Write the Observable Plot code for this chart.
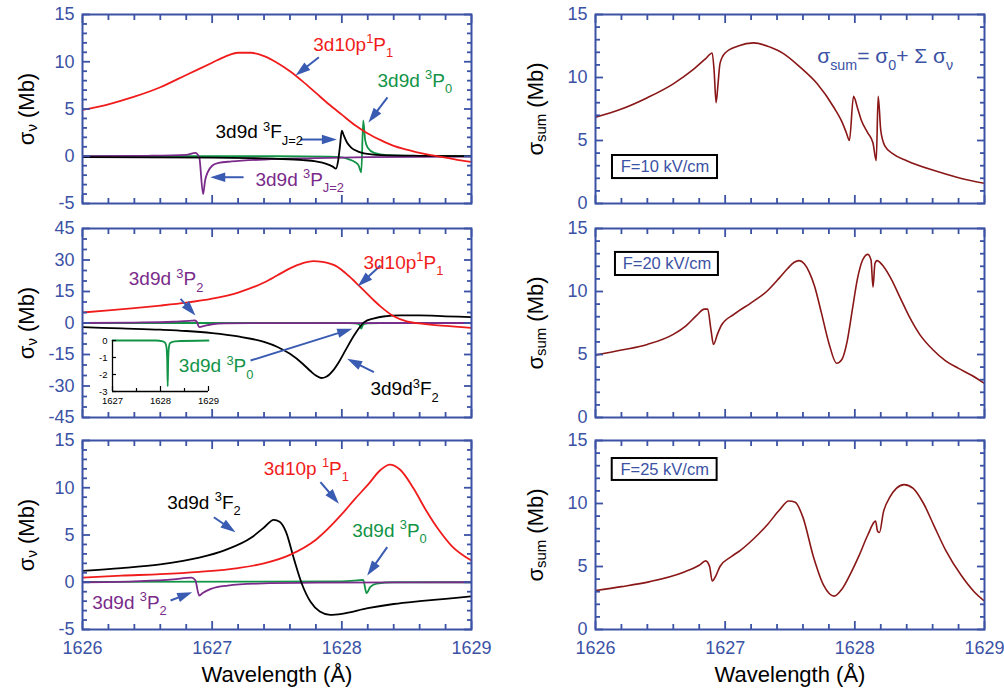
<!DOCTYPE html>
<html><head><meta charset="utf-8">
<script src="https://cdn.jsdelivr.net/npm/d3@7"></script>
<script src="https://cdn.jsdelivr.net/npm/@observablehq/plot@0.6"></script>
<style>
body{margin:0;background:#fff}
#chart{position:relative;width:1004px;height:692px;overflow:hidden;background:#fff}
#chart svg{position:absolute;left:0;top:0;background:transparent;overflow:visible}
</style></head><body><div id="chart"></div>
<script>
// ---------- data (wavelength Å, cross section Mb) ----------
const tlRed = [[1626.0,4.9],[1626.2,5.5],[1626.4,6.3],[1626.6,7.3],[1626.8,8.6],[1627.0,9.9],[1627.1,10.55],[1627.2,10.95],[1627.3,10.95],[1627.4,10.6],[1627.5,9.9],[1627.6,9.0],[1627.7,7.9],[1627.8,6.7],[1627.9,5.5],[1628.0,4.4],[1628.1,3.3],[1628.2,2.4],[1628.3,1.7],[1628.4,1.1],[1628.5,0.7],[1628.6,0.35],[1628.7,0.1],[1628.8,-0.15],[1628.9,-0.4],[1629.0,-0.6]];
const tlBlack = [[1626.0,-0.1],[1626.5,-0.12],[1627.0,-0.15],[1627.3,-0.2],[1627.5,-0.27],[1627.7,-0.4],[1627.8,-0.55],[1627.88,-0.8],[1627.93,-1.1],[1627.955,-1.3],[1627.97,-0.6],[1627.985,1.0],[1628.0,2.7],[1628.015,2.2],[1628.04,1.45],[1628.07,0.95],[1628.1,0.65],[1628.17,0.3],[1628.3,0.12],[1628.6,0.05],[1629.0,0.02]];
const tlGreen = [[1626.0,0],[1627.5,0],[1627.9,-0.03],[1628.0,-0.12],[1628.05,-0.3],[1628.1,-0.6],[1628.13,-1.0],[1628.15,-1.7],[1628.165,3.8],[1628.18,1.7],[1628.2,0.9],[1628.25,0.35],[1628.35,0.12],[1628.6,0.03],[1629.0,0]];
const tlPurple = [[1626.0,0],[1626.5,0.05],[1626.8,0.15],[1626.87,0.35],[1626.9,-0.1],[1626.93,-4.0],[1626.945,-2.6],[1626.965,-1.7],[1627.0,-1.0],[1627.05,-0.7],[1627.15,-0.55],[1627.4,-0.35],[1627.8,-0.2],[1628.2,-0.1],[1629.0,-0.05]];

const mlRed = [[1626.0,5.0],[1626.2,6.0],[1626.4,7.1],[1626.6,8.3],[1626.8,9.7],[1627.0,11.6],[1627.2,14.5],[1627.4,19.3],[1627.5,22.6],[1627.6,26.0],[1627.7,28.5],[1627.78,29.5],[1627.85,29.1],[1627.95,27.3],[1628.05,22.6],[1628.13,17.9],[1628.2,13.6],[1628.25,10.6],[1628.3,7.8],[1628.4,3.2],[1628.5,0.8],[1628.6,-0.2],[1628.7,-0.9],[1628.85,-1.6],[1629.0,-2.3]];
const mlBlack = [[1626.0,-2.0],[1626.3,-2.6],[1626.6,-3.2],[1626.8,-3.8],[1627.0,-4.8],[1627.2,-6.4],[1627.4,-9.0],[1627.5,-11.3],[1627.6,-14.7],[1627.7,-19.5],[1627.76,-23.0],[1627.8,-25.0],[1627.84,-26.2],[1627.88,-25.6],[1627.93,-22.8],[1627.98,-18.3],[1628.03,-12.8],[1628.1,-5.4],[1628.17,0.3],[1628.25,2.2],[1628.32,3.1],[1628.45,3.6],[1628.6,3.6],[1628.8,3.2],[1629.0,2.8]];
const mlPurple = [[1626.0,0],[1626.4,0.2],[1626.7,0.6],[1626.84,1.1],[1626.865,1.2],[1626.88,0.8],[1626.9,-2.0],[1626.94,-1.4],[1627.0,-0.6],[1627.1,-0.2],[1627.3,-0.05],[1629.0,0]];
const mlGreen = [[1626.0,0],[1627.0,0],[1627.9,0],[1628.05,-0.05],[1628.1,-0.15],[1628.125,-0.4],[1628.14,-1.2],[1628.15,-2.7],[1628.16,-1.2],[1628.175,-0.4],[1628.2,-0.15],[1628.3,-0.05],[1629.0,0]];

const blRed = [[1626.0,0.5],[1626.3,0.7],[1626.6,0.85],[1626.9,1.1],[1627.2,1.5],[1627.4,2.0],[1627.6,2.9],[1627.8,4.5],[1628.0,7.2],[1628.1,8.8],[1628.2,10.3],[1628.3,11.9],[1628.37,12.45],[1628.45,11.9],[1628.55,10.0],[1628.65,7.6],[1628.75,5.5],[1628.85,3.8],[1629.0,2.3]];
const blBlack = [[1626.0,1.2],[1626.3,1.5],[1626.6,1.9],[1626.9,2.6],[1627.1,3.4],[1627.3,4.7],[1627.4,5.8],[1627.475,6.6],[1627.52,6.4],[1627.57,5.3],[1627.63,2.5],[1627.69,-0.1],[1627.76,-2.1],[1627.83,-3.1],[1627.91,-3.45],[1628.0,-3.35],[1628.2,-2.75],[1628.4,-2.3],[1628.6,-2.0],[1628.8,-1.75],[1629.0,-1.5]];
const blPurple = [[1626.0,0],[1626.4,0.1],[1626.7,0.3],[1626.84,0.5],[1626.87,0.2],[1626.9,-1.4],[1626.93,-1.1],[1626.99,-0.7],[1627.12,-0.35],[1627.35,-0.15],[1627.8,-0.05],[1629.0,0]];
const blGreen = [[1626.0,0.05],[1628.0,0.1],[1628.12,0.2],[1628.165,0.25],[1628.19,-1.15],[1628.22,-0.5],[1628.27,-0.15],[1628.4,0],[1629.0,0]];

const sum10 = [[1626.0,6.85],[1626.2,7.5],[1626.4,8.4],[1626.6,9.5],[1626.75,10.6],[1626.85,11.5],[1626.9,11.95],[1626.915,10.5],[1626.93,8.0],[1626.945,9.5],[1626.96,11.1],[1627.0,11.95],[1627.1,12.5],[1627.22,12.75],[1627.35,12.4],[1627.45,11.9],[1627.58,10.8],[1627.71,9.5],[1627.84,7.6],[1627.9,6.5],[1627.935,5.6],[1627.958,5.0],[1627.99,8.5],[1628.02,7.6],[1628.05,6.6],[1628.1,5.6],[1628.14,4.8],[1628.165,3.4],[1628.18,8.5],[1628.2,5.8],[1628.23,4.6],[1628.3,3.9],[1628.4,3.4],[1628.6,2.65],[1628.8,2.05],[1629.0,1.6]];
const sum20 = [[1626.0,4.95],[1626.2,5.35],[1626.4,5.8],[1626.6,6.6],[1626.7,7.3],[1626.78,8.1],[1626.84,8.6],[1626.865,8.6],[1626.89,7.0],[1626.91,5.8],[1626.94,6.6],[1626.97,7.3],[1627.07,8.2],[1627.2,9.1],[1627.32,10.0],[1627.42,11.1],[1627.48,11.8],[1627.53,12.3],[1627.57,12.45],[1627.61,12.2],[1627.65,11.5],[1627.69,10.4],[1627.74,8.4],[1627.8,5.9],[1627.86,4.3],[1627.9,4.6],[1627.94,6.0],[1627.98,8.5],[1628.02,11.0],[1628.06,12.5],[1628.1,12.95],[1628.125,12.5],[1628.14,10.35],[1628.155,12.2],[1628.17,12.45],[1628.22,12.0],[1628.28,11.0],[1628.35,9.5],[1628.42,8.0],[1628.5,6.6],[1628.6,5.4],[1628.7,4.5],[1628.8,3.9],[1628.9,3.35],[1629.0,2.7]];
const sum25 = [[1626.0,3.1],[1626.2,3.4],[1626.42,3.8],[1626.68,4.55],[1626.8,5.1],[1626.85,5.45],[1626.88,5.0],[1626.9,3.85],[1626.93,4.3],[1626.96,5.0],[1627.05,5.8],[1627.12,6.3],[1627.22,7.2],[1627.32,8.25],[1627.42,9.5],[1627.49,10.2],[1627.54,10.1],[1627.6,8.9],[1627.68,5.8],[1627.76,3.5],[1627.84,2.65],[1627.9,3.2],[1627.97,4.5],[1628.03,5.8],[1628.1,7.5],[1628.16,8.6],[1628.175,7.8],[1628.19,7.7],[1628.22,9.3],[1628.27,10.5],[1628.32,11.2],[1628.38,11.5],[1628.45,11.2],[1628.53,10.0],[1628.61,8.25],[1628.7,6.3],[1628.82,4.3],[1628.92,3.0],[1629.0,2.25]];

const xTickLabels = [1626, 1627, 1628, 1629];
const yTicksSmall = [-5, 0, 5, 10, 15];
const yTicksMid = [-45, -30, -15, 0, 15, 30, 45];
const yTicksSum = [0, 5, 10, 15];
const insetXTicks = [1627, 1628, 1629];
const insetYTicks = [0, -1, -2, -3];
const fieldLabels = ["F=10 kV/cm", "F=20 kV/cm", "F=25 kV/cm"];

// ---------- styles ----------
const FONT = "'Liberation Sans', Arial, Helvetica, sans-serif";
const AXIS = "#3b52a5";
const ARROW = "#3a5bb2";
const C = {red: "#f01c1c", green: "#129447", purple: "#7a2b8a", black: "#000000", sum: "#8a1717"};
const W = 1004, H = 692;
const xDomain = [1626, 1629];
const xMinor = d3.range(1626, 1629.001, 0.2).filter(v => Math.abs(v - Math.round(v)) > 0.05);
const minorOf = (lo, hi, step, major) => d3.range(lo, hi + 0.001, step).filter(v => !major.includes(v));

const mctx = document.createElement("canvas").getContext("2d");
function tw(s, size) { mctx.font = `${size}px ${FONT}`; return mctx.measureText(s).width; }
function layoutParts(parts, size) {
  let off = 0; const items = [];
  for (const p of parts) {
    const isStr = typeof p === "string";
    const t = isStr ? p : (p.sup ?? p.sub);
    const fs = isStr ? size : size * 0.68;
    const shift = isStr ? 0 : (p.sup != null ? -size * 0.42 : size * 0.36);
    items.push({t, fs, shift, off});
    off += tw(t, fs);
  }
  return {items, width: off};
}
function richText(parts, [x, y], fill, size = 19) {
  const {items} = layoutParts(parts, size);
  return items.map(it => Plot.text([it.t], {x: [x], y: [y], text: d => d, fontSize: it.fs, fill, fontFamily: FONT,
    textAnchor: "start", lineAnchor: "bottom", dx: it.off, dy: it.shift}));
}
function richTitle(parts, dx, size = 22) {
  const {items, width} = layoutParts(parts, size);
  return items.map(it => Plot.text([it.t], {frameAnchor: "left", text: d => d, rotate: -90, fontSize: it.fs, fill: "black",
    fontFamily: FONT, textAnchor: "start", lineAnchor: "bottom", dx: dx + it.shift * 0.5, dy: width / 2 - it.off}));
}
const HEAD = {draw(ctx) { ctx.moveTo(0, 0); ctx.lineTo(-15, -4.8); ctx.lineTo(-15, 4.8); ctx.closePath(); }};
function arrow(p, [xa, ya], [xb, yb]) {
  const kx = (p.x1 - p.x0) / (xDomain[1] - xDomain[0]);
  const ky = (p.y1 - p.y0) / (p.yDomain[1] - p.yDomain[0]);
  const sx = (xb - xa) * kx, sy = -(yb - ya) * ky;
  const len = Math.hypot(sx, sy);
  const ang = Math.atan2(sy, sx) * 180 / Math.PI;
  const f = Math.max(0, (len - 13) / len);
  const xm = xa + (xb - xa) * f, ym = ya + (yb - ya) * f;
  return [
    Plot.link([0], {x1: [xa], y1: [ya], x2: [xm], y2: [ym], stroke: ARROW, strokeWidth: 2}),
    Plot.dot([0], {x: [xb], y: [yb], symbol: HEAD, r: 5, rotate: ang, fill: ARROW, stroke: "none"})
  ];
}

// ---------- panels ----------
const L = {x0: 82, x1: 471}, R = {x0: 595, x1: 984};
const rows = [{y0: 14, y1: 203}, {y0: 228, y1: 417}, {y0: 440, y1: 629}];
const nu = ["σ", {sub: "ν"}, " (Mb)"];
const sm = ["σ", {sub: "sum"}, " (Mb)"];

const panels = [
  {...L, ...rows[0], yDomain: [-5, 15], yMajor: yTicksSmall, yMinor: minorOf(-5, 15, 1, yTicksSmall), title: nu, titleDx: -49,
   series: [[tlGreen, C.green], [tlPurple, C.purple], [tlBlack, C.black], [tlRed, C.red]],
   notes: [
     {parts: ["3d10p", {sup: "1"}, "P", {sub: "1"}], at: [1627.78, 11.19], color: C.red, arrow: [[1627.823, 10.48], [1627.643, 8.55]]},
     {parts: ["3d9d ", {sup: "3"}, "P", {sub: "0"}], at: [1628.275, 7.38], color: C.green, arrow: [[1628.352, 6.22], [1628.205, 3.57]]},
     {parts: ["3d9d ", {sup: "3"}, "F", {sub: "J=2"}], at: [1627.026, 1.88], color: C.black, arrow: [[1627.68, 1.77], [1627.962, 1.77]]},
     {parts: ["3d9d ", {sup: "3"}, "P", {sub: "J=2"}], at: [1627.334, -3.1], color: C.purple, arrow: [[1627.242, -2.22], [1626.985, -2.22]]}
   ]},
  {...L, ...rows[1], yDomain: [-45, 45], yMajor: yTicksMid, yMinor: minorOf(-45, 45, 5, yTicksMid), title: nu, titleDx: -49,
   series: [[mlGreen, C.green], [mlPurple, C.purple], [mlBlack, C.black], [mlRed, C.red]],
   notes: [
     {parts: ["3d10p", {sup: "1"}, "P", {sub: "1"}], at: [1628.167, 25.95], color: C.red, arrow: [[1628.298, 27.38], [1628.123, 17.52]]},
     {parts: ["3d9d ", {sup: "3"}, "P", {sub: "2"}], at: [1626.357, 17.86], color: C.purple, arrow: [[1626.756, 11.52], [1626.871, 3.57]]},
     {parts: ["3d9d ", {sup: "3"}, "P", {sub: "0"}], at: [1626.743, -23.57], color: C.green, arrow: [[1627.296, -17.86], [1628.08, -2.76]]},
     {parts: ["3d9d", {sup: "3"}, "F", {sub: "2"}], at: [1628.221, -34.52], color: C.black, arrow: [[1628.247, -23.43], [1628.041, -17.05]]}
   ]},
  {...L, ...rows[2], yDomain: [-5, 15], yMajor: yTicksSmall, yMinor: minorOf(-5, 15, 1, yTicksSmall), title: nu, titleDx: -49, xLabels: true,
   series: [[blGreen, C.green], [blPurple, C.purple], [blBlack, C.black], [blRed, C.red]],
   notes: [
     {parts: ["3d10p ", {sup: "1"}, "P", {sub: "1"}], at: [1627.398, 11.4], color: C.red, arrow: [[1627.835, 10.6], [1627.977, 8.32]]},
     {parts: ["3d9d ", {sup: "3"}, "F", {sub: "2"}], at: [1626.653, 7.8], color: C.black, arrow: [[1627.013, 6.88], [1627.18, 5.3]]},
     {parts: ["3d9d ", {sup: "3"}, "P", {sub: "0"}], at: [1628.08, 4.84], color: C.green, arrow: [[1628.35, 3.71], [1628.196, 0.72]]},
     {parts: ["3d9d ", {sup: "3"}, "P", {sub: "2"}], at: [1626.075, -2.78], color: C.purple, arrow: [[1626.679, -1.93], [1626.846, -1.05]]}
   ]},
  {...R, ...rows[0], yDomain: [0, 15], yMajor: yTicksSum, yMinor: minorOf(0, 15, 1, yTicksSum), title: sm, titleDx: -53,
   series: [[sum10, C.sum]], sw: 1.6, box: {label: fieldLabels[0], x1: 1626.131, x2: 1626.941, y1: 1.98, y2: 3.81},
   formula: {parts: ["σ", {sub: "sum"}, "= σ", {sub: "0"}, "+ Σ σ", {sub: "ν"}], at: [1627.71, 11.19]}},
  {...R, ...rows[1], yDomain: [0, 15], yMajor: yTicksSum, yMinor: minorOf(0, 15, 1, yTicksSum), title: sm, titleDx: -53,
   series: [[sum20, C.sum]], sw: 1.6, box: {label: fieldLabels[1], x1: 1626.154, x2: 1626.948, y1: 11.27, y2: 13.1}},
  {...R, ...rows[2], yDomain: [0, 15], yMajor: yTicksSum, yMinor: minorOf(0, 15, 1, yTicksSum), title: sm, titleDx: -53, xLabels: true,
   series: [[sum25, C.sum]], sw: 1.6, box: {label: fieldLabels[2], x1: 1626.129, x2: 1626.938, y1: 11.83, y2: 13.57}}
];

function tickMarks(xMaj, xMin, yMaj, yMin, color, big, small, sw) {
  const st = {stroke: color, strokeWidth: sw, tickFormat: () => "", label: null};
  const m = [];
  for (const [vals, len] of [[xMaj, big], [xMin, small]]) {
    if (!vals.length) continue;
    m.push(Plot.axisX(vals, {...st, anchor: "bottom", tickSize: len, dy: -len}));
    m.push(Plot.axisX(vals, {...st, anchor: "top", tickSize: len, dy: len}));
  }
  for (const [vals, len] of [[yMaj, big], [yMin, small]]) {
    if (!vals.length) continue;
    m.push(Plot.axisY(vals, {...st, anchor: "left", tickSize: len, dx: len}));
    m.push(Plot.axisY(vals, {...st, anchor: "right", tickSize: len, dx: -len}));
  }
  return m;
}

const chart = document.getElementById("chart");
const baseStyle = {background: "transparent", overflow: "visible", fontFamily: FONT};

for (const p of panels) {
  const marks = [];
  for (const [data, color] of p.series)
    marks.push(Plot.line(data, {x: d => d[0], y: d => d[1], stroke: color, strokeWidth: p.sw ?? 1.8, curve: "monotone-x", clip: true}));
  if (p.box) {
    marks.push(Plot.rect([p.box], {x1: "x1", x2: "x2", y1: "y1", y2: "y2", fill: "white", stroke: "black", strokeWidth: 2}));
    marks.push(Plot.text([p.box], {x: d => (d.x1 + d.x2) / 2, y: d => (d.y1 + d.y2) / 2, text: "label", fill: AXIS, fontSize: 16.5, fontFamily: FONT}));
  }
  if (p.formula) marks.push(...richText(p.formula.parts, p.formula.at, AXIS, 21));
  for (const n of (p.notes || [])) {
    marks.push(...arrow(p, n.arrow[0], n.arrow[1]));
    marks.push(...richText(n.parts, n.at, n.color, 19));
  }
  marks.push(Plot.frame({stroke: AXIS, strokeWidth: 2}));
  marks.push(...tickMarks(xTickLabels, xMinor, p.yMajor, p.yMinor, AXIS, 8, 5, 1.8));
  marks.push(Plot.axisY(p.yMajor, {anchor: "left", tickSize: 0, tickPadding: 8, fontSize: 18, fill: AXIS, fontFamily: FONT, label: null, tickFormat: d => String(d)}));
  if (p.xLabels) {
    marks.push(Plot.axisX(xTickLabels, {anchor: "bottom", tickSize: 0, tickPadding: 12, fontSize: 18, fill: AXIS, fontFamily: FONT, label: null, tickFormat: d => String(d)}));
    marks.push(Plot.text(["Wavelength (Å)"], {frameAnchor: "bottom", text: d => d, dy: 52, lineAnchor: "bottom", fontSize: 22, fill: "black", fontFamily: FONT}));
  }
  marks.push(...richTitle(p.title, p.titleDx, 22));
  chart.appendChild(Plot.plot({
    width: W, height: H,
    marginLeft: p.x0, marginRight: W - p.x1, marginTop: p.y0, marginBottom: H - p.y1,
    x: {domain: xDomain}, y: {domain: p.yDomain},
    style: baseStyle,
    marks
  }));
}

// ---------- inset in middle-left panel ----------
const insetGreen = mlGreen.filter(d => d[0] >= 1627);
chart.appendChild(Plot.plot({
  width: W, height: H,
  marginLeft: 112, marginRight: W - 208, marginTop: 340, marginBottom: H - 391,
  x: {domain: [1627, 1629]}, y: {domain: [-3, 0]},
  style: baseStyle,
  marks: [
    Plot.line(insetGreen, {x: d => d[0], y: d => d[1], stroke: C.green, strokeWidth: 1.8, curve: "monotone-x"}),
    Plot.ruleX([1627], {stroke: "black", strokeWidth: 1.3}),
    Plot.ruleY([-3], {stroke: "black", strokeWidth: 1.3}),
    Plot.axisX(insetXTicks, {anchor: "bottom", tickSize: 5, dy: -5, tickFormat: () => "", stroke: "black", strokeWidth: 1.2, label: null}),
    Plot.axisX([1627.5, 1628.5], {anchor: "bottom", tickSize: 3, dy: -3, tickFormat: () => "", stroke: "black", strokeWidth: 1.2, label: null}),
    Plot.axisY(insetYTicks, {anchor: "left", tickSize: 4, dx: 4, tickFormat: () => "", stroke: "black", strokeWidth: 1.2, label: null}),
    Plot.axisX(insetXTicks, {anchor: "bottom", tickSize: 0, tickPadding: 6, fontSize: 9.5, fill: "black", fontFamily: FONT, label: null, tickFormat: d => String(d)}),
    Plot.axisY(insetYTicks, {anchor: "left", tickSize: 0, tickPadding: 5, fontSize: 9.5, fill: "black", fontFamily: FONT, label: null, tickFormat: d => String(d)})
  ]
}));
</script></body></html>
